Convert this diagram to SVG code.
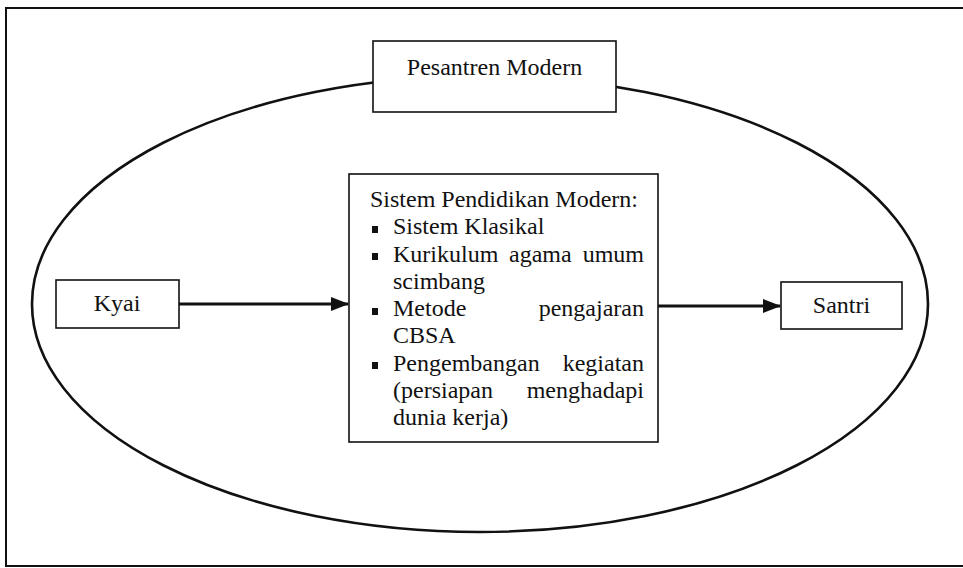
<svg xmlns="http://www.w3.org/2000/svg" width="963" height="568" viewBox="0 0 963 568">
<defs>
<style>
.t{font-family:'Liberation Serif','DejaVu Serif','Times New Roman',serif;font-size:24px;fill:#111}
.box{fill:#fff;stroke:#111;stroke-width:1.6}
.conn{stroke:#111;stroke-width:3.2;fill:none}
.b{fill:#111}
</style>
<marker id="ah" markerWidth="18" markerHeight="14" refX="17" refY="7" orient="auto" markerUnits="userSpaceOnUse">
<path d="M0,0 L18,7 L0,14 Z" fill="#111"/>
</marker>
</defs>
<rect width="963" height="568" fill="#fff"/>
<path d="M963,8 L6,8 L6,566 L963,566" fill="none" stroke="#111" stroke-width="2"/>
<ellipse id="pesantren-boundary" cx="480" cy="304" rx="448" ry="228" fill="none" stroke="#111" stroke-width="2.6"/>
<g id="connectors">
<line class="conn" x1="179" y1="304" x2="348" y2="304" marker-end="url(#ah)"/>
<line class="conn" x1="658" y1="306" x2="780" y2="306" marker-end="url(#ah)"/>
</g>
<g font-family="Liberation Serif, DejaVu Serif, serif" font-size="24">
<g id="pesantren-modern">
<rect class="box" x="373" y="41" width="243" height="71"/>
<text class="t" x="494.5" y="75" text-anchor="middle">Pesantren Modern</text>
</g>
<g id="kyai">
<rect class="box" x="56" y="280" width="123" height="48"/>
<text class="t" x="117" y="311" text-anchor="middle">Kyai</text>
</g>
<g id="santri">
<rect class="box" x="781" y="282" width="121" height="47"/>
<text class="t" x="841.5" y="313" text-anchor="middle">Santri</text>
</g>
<g id="sistem-pendidikan">
<rect class="box" x="349" y="174" width="309" height="268"/>
<text class="t" x="370" y="207">Sistem Pendidikan Modern:</text>
<rect class="b" x="372" y="226" width="6" height="7"/>
<text class="t" x="393" y="234">Sistem Klasikal</text>
<rect class="b" x="372" y="253" width="6" height="7"/>
<text class="t" y="261.5"><tspan x="393">Kurikulum</tspan><tspan x="509">agama</tspan><tspan x="644" text-anchor="end">umum</tspan></text>
<text class="t" x="393" y="289">scimbang</text>
<rect class="b" x="372" y="308" width="6" height="7"/>
<text class="t" y="316"><tspan x="393">Metode</tspan><tspan x="644" text-anchor="end">pengajaran</tspan></text>
<text class="t" x="393" y="343">CBSA</text>
<rect class="b" x="372" y="362" width="6" height="7"/>
<text class="t" y="370.5"><tspan x="393">Pengembangan</tspan><tspan x="644" text-anchor="end">kegiatan</tspan></text>
<text class="t" y="398"><tspan x="393">(persiapan</tspan><tspan x="644" text-anchor="end">menghadapi</tspan></text>
<text class="t" x="393" y="425">dunia kerja)</text>
</g>
</g>
</svg>
